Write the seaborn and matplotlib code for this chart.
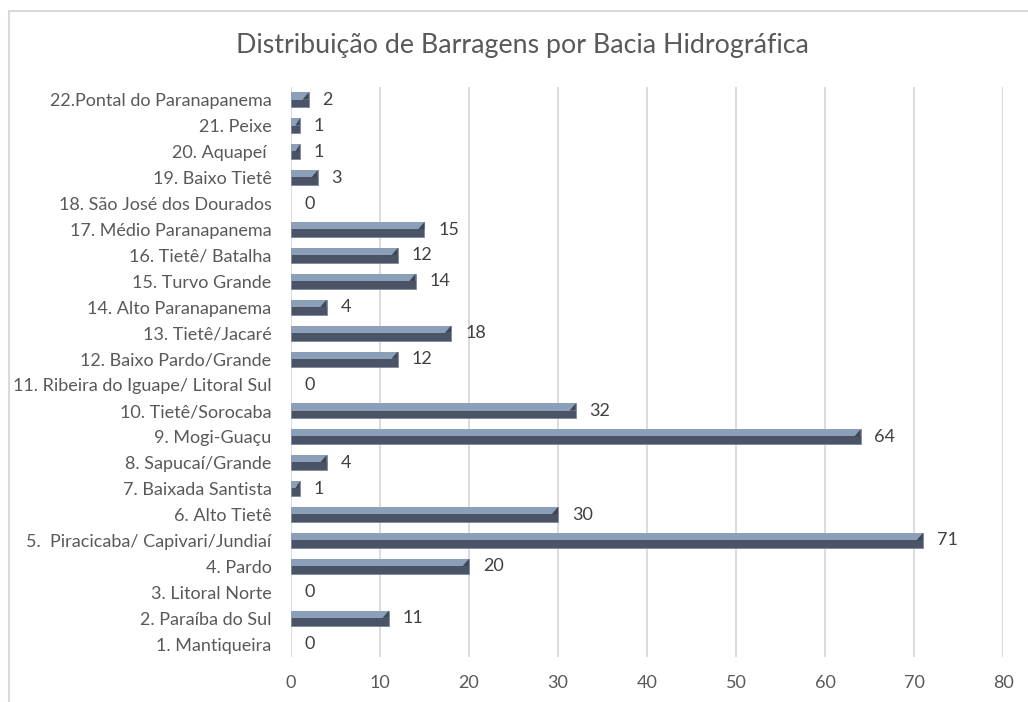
import matplotlib
matplotlib.use("Agg")
import matplotlib.pyplot as plt
import seaborn as sns
import pandas as pd
from matplotlib.patches import Rectangle, Polygon

# ── données (de haut en bas, comme sur le graphique) ──
bacias = [
    "22.Pontal do Paranapanema", "21. Peixe", "20. Aquapeí ", "19. Baixo Tietê",
    "18. São José dos Dourados", "17. Médio Paranapanema", "16. Tietê/ Batalha",
    "15. Turvo Grande", "14. Alto Paranapanema", "13. Tietê/Jacaré",
    "12. Baixo Pardo/Grande", "11. Ribeira do Iguape/ Litoral Sul",
    "10. Tietê/Sorocaba", "9. Mogi-Guaçu", "8. Sapucaí/Grande",
    "7. Baixada Santista", "6. Alto Tietê", "5.  Piracicaba/ Capivari/Jundiaí",
    "4. Pardo", "3. Litoral Norte", "2. Paraíba do Sul", "1. Mantiqueira",
]
barragens = [2, 1, 1, 3, 0, 15, 12, 14, 4, 18, 12, 0, 32, 64, 4, 1, 30, 71, 20, 0, 11, 0]
x_ticks = [0, 10, 20, 30, 40, 50, 60, 70, 80]

TITRE = "Distribuição de Barragens por Bacia Hidrográfica"
CINZA_TEXTO = "#595959"
CINZA_GRADE = "#D9D9D9"
AZUL_CLARO = "#8C9FB9"
AZUL_ESCURO = "#4A5466"

df = pd.DataFrame({"bacia": bacias, "n": barragens})

sns.set_style("white")
plt.rcParams["font.family"] = ["Lato", "DejaVu Sans"]

fig = plt.figure(figsize=(10.28, 7.02), dpi=100)
ax = fig.add_axes([0.283, 45 / 702, 0.6927, 570 / 702])

sns.barplot(data=df, y="bacia", x="n", orient="h", color=AZUL_ESCURO,
            saturation=1, width=0.58, ax=ax, edgecolor="#7C8BA0", linewidth=0.6)

# relief façon Excel : moitié haute claire + biseau au bout
for p in list(ax.patches):
    x0, y0, w, h = p.get_x(), p.get_y(), p.get_width(), p.get_height()
    if w <= 0:
        p.set_linewidth(0)
        continue
    ax.add_patch(Rectangle((x0, y0), w, h * 0.48, facecolor=AZUL_CLARO,
                           edgecolor="none", zorder=p.get_zorder() + 0.1))
    b = min(0.7, w * 0.5)
    ax.add_patch(Polygon([(x0 + w - b, y0 + h * 0.48), (x0 + w, y0), (x0 + w, y0 + h * 0.48)],
                         closed=True, facecolor="#3E4757", edgecolor="none",
                         zorder=p.get_zorder() + 0.2))

ax.bar_label(ax.containers[0], labels=[str(v) for v in barragens], padding=10,
             fontsize=13, color="#404040")

ax.set_xlim(0, 80)
ax.set_xticks(x_ticks)
ax.set_ylim(len(bacias) - 0.5, -0.5)
ax.set_xlabel(""); ax.set_ylabel("")
ax.grid(axis="x", color=CINZA_GRADE, linewidth=1.3)
ax.set_axisbelow(True)
for s in ax.spines.values():
    s.set_visible(False)
ax.tick_params(axis="x", length=0, pad=13, labelsize=13, labelcolor=CINZA_TEXTO)
ax.tick_params(axis="y", length=0, pad=14, labelsize=13, labelcolor=CINZA_TEXTO)

fig.text(522 / 1028, 1 - 45 / 702, TITRE, ha="center", va="center",
         fontsize=19.3, color=CINZA_TEXTO)

# cadre du graphique (coupé à droite et en bas)
fig.add_artist(Rectangle((9 / 1028, -0.1), 1.2, 0.1 + (702 - 11) / 702,
                         transform=fig.transFigure, fill=False,
                         edgecolor=CINZA_GRADE, linewidth=1.5))

fig.savefig("out.png", dpi=100)
plt.close(fig)
